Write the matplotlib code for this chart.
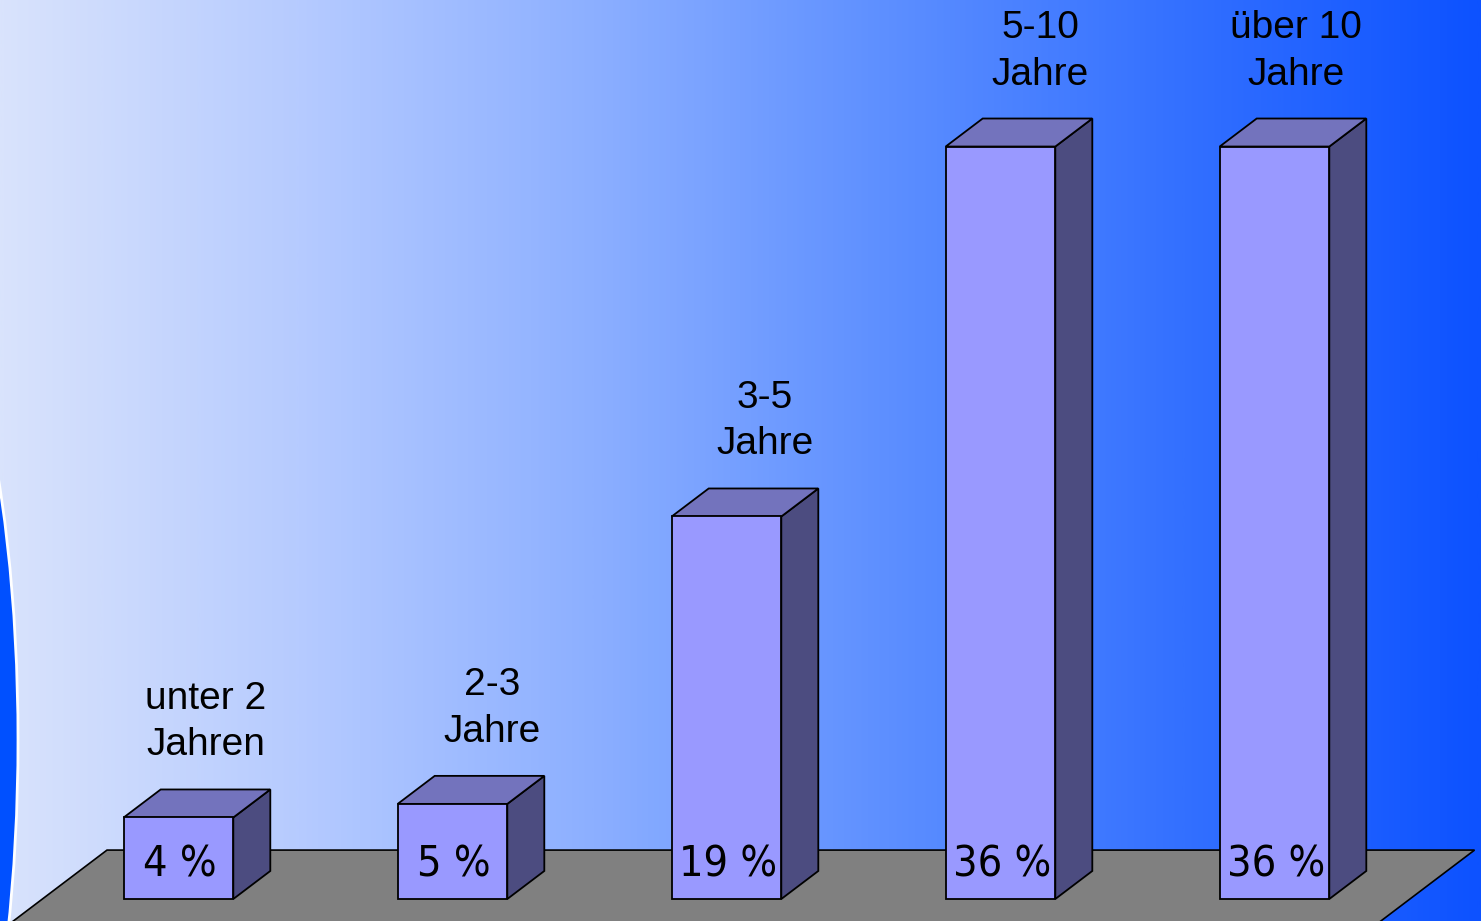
## 3D bar chart: Dauer (Jahre) -- recreated with matplotlib
import numpy as np
import matplotlib.pyplot as plt
from matplotlib.patches import Polygon, Ellipse
from matplotlib.colors import LinearSegmentedColormap
from matplotlib import font_manager

categories = ['unter 2\nJahren', '2-3\nJahre', '3-5\nJahre', '5-10\nJahre', 'über 10\nJahre']
values = [3.9, 4.55, 18.3, 36.0, 36.0]               # bar heights
value_labels = ['4 %', '5 %', '19 %', '36 %', '36 %']

# geometry (data units: x = category index, y = percent)
w = 0.40                                            # front face width
dx, dy = 0.135, 1.34                                # 3D depth offset
floor_back = 2.34                                   # back edge of the floor
floor_left, floor_right = -0.261, 4.73
label_dx = [0.10, 0.145, 0.14, 0.146, 0.077]        # label shift to the right of each bar

# pick a condensed font for the percentages if one is installed
names = {f.name for f in font_manager.fontManager.ttflist}
narrow = [n for n in ['Liberation Sans Narrow', 'DejaVu Sans Condensed'] if n in names]
if narrow:
    pct_font = dict(family=[narrow[0], 'DejaVu Sans'], fontsize=31)
else:
    pct_font = dict(family=['DejaVu Sans'], fontstretch='condensed', fontsize=31)

fig = plt.figure(figsize=(14.81, 9.21), dpi=100)
ax = fig.add_axes([0, 0, 1, 1])
ax.set_xlim(-0.6515, 4.7536)
ax.set_ylim(-1.053, 43.01)
ax.axis('off')

# background gradient (light blue -> strong blue)
bg = LinearSegmentedColormap.from_list('bg', ['#d9e3fc', '#b6cbff', '#8cafff',
                                              '#5d8fff', '#3370ff', '#0d52ff'])
ax.imshow(np.linspace(0, 1, 512)[None, :], cmap=bg, aspect='auto',
          extent=[-0.6515, 4.7536, -1.053, 43.01], zorder=0)

# blue arc on the left edge
arc = Ellipse((-120 / 1481, 1 - 740 / 921), 276 / 1481, 1020 / 921,
              transform=ax.transAxes, facecolor='#0050ff', edgecolor='white',
              linewidth=2, zorder=1)
ax.add_patch(arc)

# floor
k = floor_back + 4.0                                # how far the floor reaches to the front
slope = dx / dy
floor = Polygon([(floor_left, floor_back), (floor_right, floor_back),
                 (floor_right - k * slope, floor_back - k),
                 (floor_left - k * slope, floor_back - k)],
                closed=True, facecolor='#808080', edgecolor='black', linewidth=1.2, zorder=2)
ax.add_patch(floor)

for i, v in enumerate(values):
    x0, x1 = i - w / 2, i + w / 2
    side = Polygon([(x1, 0), (x1 + dx, dy), (x1 + dx, v + dy), (x1, v)],
                   facecolor='#4c4c80', edgecolor='black', linewidth=1.3, zorder=3)
    top = Polygon([(x0, v), (x1, v), (x1 + dx, v + dy), (x0 + dx, v + dy)],
                  facecolor='#7373bd', edgecolor='black', linewidth=1.3, zorder=3)
    front = Polygon([(x0, 0), (x1, 0), (x1, v), (x0, v)],
                    facecolor='#9999ff', edgecolor='black', linewidth=1.3, zorder=4)
    for p in (side, top, front):
        ax.add_patch(p)

    # percentage inside the bar
    ax.text(i + 0.005, 1.65, value_labels[i], ha='center', va='center',
            color='black', zorder=5, **pct_font)
    # category label above the bar
    ax.text(i + label_dx[i], v + dy + 3.22, categories[i], ha='center', va='center', fontsize=28,
            family=['Liberation Sans', 'DejaVu Sans'], linespacing=1.38, color='black', zorder=5)

plt.savefig('out.png', dpi=100)
